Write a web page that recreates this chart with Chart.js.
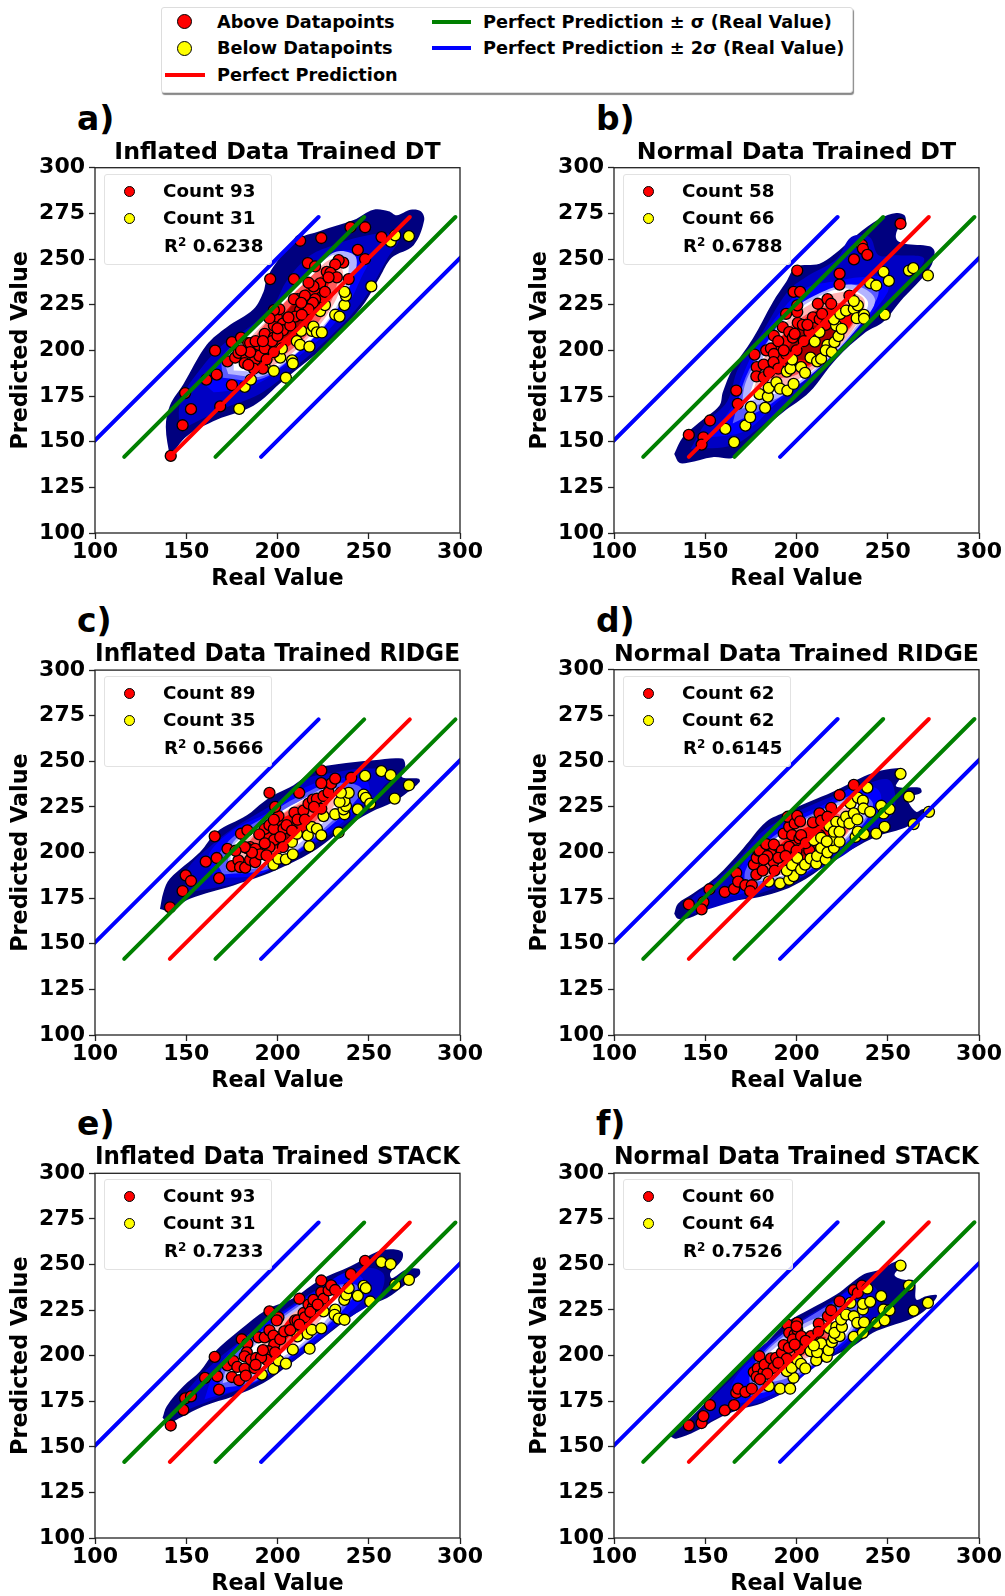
<!DOCTYPE html>
<html>
<head>
<meta charset="utf-8">
<script src="https://cdn.jsdelivr.net/npm/chart.js@4/dist/chart.umd.js"></script>
<style>
  body { margin: 0; background: #fff; font-family: "DejaVu Sans", sans-serif; font-weight: bold; color: #000; }
  #page { position: relative; width: 1005px; height: 1596px; overflow: hidden; }
  canvas { position: absolute; }
  .box { position: absolute; box-sizing: border-box; border-radius: 3px; }
  .txt { position: absolute; white-space: nowrap; line-height: 1; }
  .dot { position: absolute; box-sizing: border-box; border-radius: 50%; border: 1.3px solid #000; }
  .bar { position: absolute; height: 4px; }
  sup { font-size: 12px; line-height: 0; vertical-align: 6px; }
</style>
</head>
<body>
<div id="page">
  <div class="box" style="left:161px;top:7px;width:692px;height:86px;background:#fff;border:1px solid #ddd;box-shadow:1px 2px 1px #888"></div>
  <div class="dot" style="left:177px;top:14px;width:15px;height:15px;background:#f00"></div>
  <div class="dot" style="left:177px;top:41px;width:15px;height:15px;background:#ff0"></div>
  <div class="bar" style="left:165px;top:73px;width:40px;background:#f00"></div>
  <div class="bar" style="left:432px;top:20px;width:39px;background:#008000"></div>
  <div class="bar" style="left:432px;top:46px;width:39px;background:#00f"></div>
  <span class="txt" style="left:217px;top:14px;font-size:17.7px">Above Datapoints</span>
  <span class="txt" style="left:217px;top:40px;font-size:17.7px">Below Datapoints</span>
  <span class="txt" style="left:217px;top:67px;font-size:17.7px">Perfect Prediction</span>
  <span class="txt" style="left:483px;top:14px;font-size:17.7px">Perfect Prediction ± σ (Real Value)</span>
  <span class="txt" style="left:483px;top:40px;font-size:17.7px">Perfect Prediction ± 2σ (Real Value)</span>
</div>
<script>
// tick settings
const axisMin = 100;
const axisMax = 300;
const xStep = 50;
const yStep = 25;

// perfect prediction lines (real value, predicted value)
const perfectY = [141.7, 273];
const perfectX = [141, 272.5];
const plusSigmaX = [116, 247.5];
const minusSigmaX = [166, 297.5];
const plusTwoSigmaX = [91, 222.5];
const minusTwoSigmaX = [191, 322.5];

const letters = ['a)', 'b)', 'c)', 'd)', 'e)', 'f)'];
const titles = ['Inflated Data Trained DT', 'Normal Data Trained DT', 'Inflated Data Trained RIDGE', 'Normal Data Trained RIDGE', 'Inflated Data Trained STACK', 'Normal Data Trained STACK'];
const titleSizes = [23.7, 23.7, 24.1, 23.7, 24.3, 24];
const aboveCounts = [93, 58, 89, 62, 93, 60];
const belowCounts = [31, 66, 35, 62, 31, 64];
const r2Values = ['0.6238', '0.6788', '0.5666', '0.6145', '0.7233', '0.7526'];

// seismic colours for the density levels, outer to inner
const levelColors = ['#00007f', '#0000c4', '#0000ff', '#5a5aff', '#b4b4ff', '#ffffff', '#ffb4b4', '#ff5a5a', '#ff0000', '#aa0000'];

const aAbove = [[141.5,142.2],[148,159],[152.6,167.8],[149.4,176.6],[168.6,169.3],[161,184],[166.7,186.7],[175,181],[165.8,199.8],[175,204.5],[180,207],[172.6,194],[176.8,196],[178.6,198.6],[184,204],[185,204],[183,196],[182,193],[187.8,199],[187.8,195],[189.6,203],[193,209],[195,203],[198,207],[198,213.6],[199.6,218.5],[203,214.6],[201,222.5],[198,222],[195.6,217.6],[203,211],[196,239],[209,239],[216.6,247.8],[212.4,260],[224,261.5],[220.6,246],[240,267.4],[248,267.4],[257,262],[244,255],[248,250],[236,248],[233.5,249.4],[231.6,247],[227,243],[229,242.4],[232.5,240],[239,239],[223.4,236.7],[219.7,235],[217,237],[224,229],[220.6,228],[219.4,226],[211,228],[209,228],[212.4,222],[217,222.5],[209.7,218.5],[213.3,219.5],[192,190],[187,190],[207,213.6],[190,197],[193,201],[197,205],[200,208],[185,199],[180,200],[188,205],[192,205],[200,212],[206,218],[215,230],[213,226],[226,232],[228,240],[194,195],[198,199],[184,192]];
const aBelow = [[179,168],[182,180],[185.4,184],[193,191],[198,188.7],[201.5,196],[202.4,201],[204.6,185],[208,194.5],[208.4,192.8],[210.6,205],[212.4,203],[213,210.7],[217.5,202],[218.8,210.7],[219.7,213],[221.6,209.8],[224.3,209.8],[223.4,221.5],[226,224.8],[231.6,219.5],[234,218.5],[236.7,224.8],[237.5,230],[236.7,232],[251.4,235],[262,259.5],[264.5,263],[272,262.5]];
const bAbove = [[141,153.7],[149,152.4],[148,148.4],[152.6,161.6],[167,178],[167.8,170.7],[177,197.7],[178.2,190.8],[182,192.2],[178,185.7],[182,185.3],[183.4,200],[186,201],[187.6,198],[187.6,208],[187.4,193.5],[194.3,198],[192.5,212.7],[194.3,220],[196,210],[198,207],[199,209],[200.7,215],[203.5,214],[200.4,221],[200.4,224.6],[198.4,232],[202,232],[200.4,243.7],[211.7,225.5],[217,228],[219,225.5],[209,218],[212.7,217],[207,210],[223.6,242],[223.6,236],[231.5,249.8],[235.8,257.8],[236.4,255.6],[238.8,252.3],[257,269.3],[229,230],[190,205],[193,200],[197,194],[200,200],[204,205],[206,214],[214,220],[216,214],[190,190],[185,188]];
const bBelow = [[161,157],[165.8,149.7],[172,158.8],[174.6,163.4],[175,169],[182.8,168.5],[179.7,176],[184.3,174.7],[184.8,179.5],[189,182.5],[191,179],[195,178],[198.4,181.6],[194.7,188.4],[196.7,190],[197.6,195],[202.5,190.8],[204.7,187.7],[207.7,196],[210,204.8],[211.3,194],[213.5,195.3],[217,203],[216,200],[219.4,199],[220.8,204.5],[223,207.8],[212.6,210],[221.7,213.6],[224.8,211.8],[220.5,217],[224,220],[227.2,221.8],[231.4,222.7],[233.6,224.6],[231.4,227],[233,217.6],[237,219.4],[237,217.3],[240.4,236.8],[243.7,235.5],[247.7,243],[250.6,238],[248.3,219.6],[261.6,243.7],[264,245],[272,241]];
const cAbove = [[141.1,170],[148,178.9],[149.7,187.5],[152.6,184.4],[168,186],[160.7,195],[166.7,197],[165.6,208.9],[172.6,202],[180,210.3],[183.5,212.2],[175,192.6],[178.6,195.7],[179.5,192],[182.3,191.7],[185,203],[183,202.5],[187.8,202],[185,196],[187.8,194.8],[190.5,199],[193,213],[195.6,215],[198,213],[203.3,213],[198.2,207],[195.6,203],[201.5,208.5],[200.5,220],[198.7,225],[195.6,232.7],[211.9,232.7],[209.3,221.9],[211,218],[214.2,223],[217,226.8],[219.4,229],[221.6,229.5],[225.2,231],[224,224],[228,233],[229.4,237.8],[224,238],[224,245],[231.6,240.5],[240.4,241],[194,198.5],[203,203],[190,210],[205,215],[186,200],[182,203],[177,201],[193,205],[208,212],[215,218],[220,225],[198,218]];
const cBelow = [[197.8,193.3],[200.5,196.6],[204.6,196.3],[208.4,199],[207.9,205.8],[210.6,210.3],[216.6,209.4],[217.5,203.4],[218.8,214],[221.6,213],[224,209.4],[225.2,220],[231.6,221],[233.5,211],[236.7,221],[244,223.7],[236.2,223.7],[237.5,225.5],[236.7,228.3],[234,227.7],[239,232.7],[234.7,232.8],[247.2,231.7],[248.4,230],[250.8,226.8],[248,242],[256.9,244.6],[262,242.4],[264.2,229.6],[272,236.9]];
const dAbove = [[141,171.5],[149,172.8],[148,168.8],[152.3,179.8],[160.7,178.3],[165.8,180],[167,188.7],[168,184],[172,182],[175.5,182],[174.6,178.7],[176.6,193.3],[178.2,197],[179,201],[178,187.8],[181.5,190],[179.7,201],[183.4,204.5],[186,199],[187.6,204.3],[187.4,194.8],[192,201],[193,210.3],[196,214],[195.2,219.5],[199,215.8],[200.4,220],[202,217],[197.6,209.4],[201.6,207.6],[202.5,209.4],[209,216.4],[212.6,221.3],[213.5,217.3],[219,224.4],[217,219.5],[223.6,231.4],[231.4,236.9],[196,203],[207,201],[212.6,209.4],[190,197],[194,198],[200,201],[205,205],[184,198],[182,196],[188,190]];
const dBelow = [[184.8,184],[191,183],[196,185],[198.4,187],[194.7,190],[197.6,193],[202.5,190.6],[200.4,197],[204.7,193.3],[207.7,196.6],[210.8,193.9],[211.3,198],[213.5,202.5],[209.5,206.7],[213.5,208],[216,196],[217,200],[220.5,202.5],[219.4,206.7],[223.6,205.8],[216.6,206],[218,214.4],[221.8,216.7],[220.5,211.3],[223.6,211.3],[225.4,216.7],[227.2,219.5],[229,215.8],[229.6,226.8],[231.4,221.3],[233.3,218],[232.4,208.5],[233.6,211.3],[237,210],[233.6,230],[236.4,228.3],[236.7,224],[238.8,235.4],[240.4,222.2],[243.7,210.3],[246.4,225.5],[247.7,221.3],[248.3,214],[251,223.7],[257,243],[261.6,230.5],[264.2,215.5],[272.6,222.2]];
const eAbove = [[141.5,161.7],[148.4,170.3],[149.4,176.6],[152.6,177.7],[168,181.4],[160.3,187.8],[167,188.7],[175,188.3],[179,186.5],[165.6,199.3],[172.6,194.7],[175.9,197],[178,193.8],[182,192.9],[182.6,189],[180.4,209],[183.5,206.6],[183.2,201.8],[182,199.6],[185.4,197.8],[187.4,193.2],[188.3,198.7],[189.6,210],[193,210],[195.6,224.3],[195.6,213.9],[197.8,211],[200.5,221],[199.6,219.3],[198.2,206],[201.5,209],[203.7,213.3],[195,202.4],[198.7,201.8],[194,197.8],[209.7,219.3],[211,219.3],[212,231.2],[214.3,223.4],[217,228],[219.4,226.6],[219.7,230.6],[224,241.2],[224,234.7],[225.2,231.2],[228,235.8],[229.4,238.5],[231.6,236],[240.2,244.7],[248,252],[207,214],[191,199],[188,195],[192,203],[215,221],[218,224],[222,228],[212,217]];
const eBelow = [[191.4,189.6],[197.8,192.7],[200.5,197.3],[204.6,195.6],[208.4,203.3],[211,210.6],[216.5,212],[217.6,203.8],[218.8,214.2],[224,215],[225.2,224.3],[231.6,225.2],[231.3,222.4],[233.5,220.3],[236.7,219.7],[236.6,230.6],[237.7,233.4],[239,237],[244,232.8],[247.2,238.3],[248.4,237],[250.8,229.7],[256.9,251.3],[262,250.2],[264.5,238.9],[272,241.6]];
const fAbove = [[141,161.7],[148,163],[149,166.8],[152.6,172.8],[160.7,169.9],[165.8,172.8],[167,179.6],[168,181.8],[172,180],[175.5,181.8],[179.7,199.6],[176.6,190.9],[178.8,192.9],[178.2,188.3],[182,190.9],[182.5,195],[186,198.4],[187.4,193.2],[188.8,198.7],[192,201.5],[193,205.7],[195.8,204.2],[194.7,198.2],[194.9,217],[196,212.4],[199,211.5],[200.4,217.9],[200.4,214.2],[198,208.8],[202.5,210.6],[201.6,203.3],[208,210.6],[212.2,217.5],[217.2,221.5],[219,224.8],[223.6,229.7],[231.4,235.8],[233.6,234.3],[235.8,238.3],[190,196],[184,190],[180,187],[199,206],[205,208],[212,213],[200,216]];
const fBelow = [[184.8,183.2],[191,181.8],[196.5,181.8],[198.4,187.8],[194.7,191.4],[197.4,193.2],[200.4,197.8],[202.5,195.4],[204.8,192.9],[207.7,202.4],[210.8,197.3],[211.3,201.8],[213.5,206.6],[209.5,205.5],[216.6,199.3],[217.6,202.9],[219.4,207.3],[220.5,209.7],[223.6,210.6],[218,215],[221.8,215.7],[220.8,212.4],[224.9,215.7],[224.5,219.7],[227.2,222.4],[231.4,221.5],[233.3,217.9],[231.4,210.2],[237,218.2],[236.4,212.4],[236.4,225.2],[236.4,228.3],[240.4,229.4],[238.8,236.7],[229.6,228.8],[243.7,217.9],[246.4,232.5],[247.7,225.2],[248.3,219.3],[251,224.8],[257,249.3],[261.6,238.3],[264.2,224.6],[272,228.8]];

// density outlines, one list per level
const aKde = [
  [[141,141.4],[150.3,153],[166.7,162],[186.8,169.7],[203,183.4],[223.4,200],[238,214.6],[248,226.4],[256,240],[262.7,250.8],[274.6,257.6],[280.4,271.3],[278.5,276.2],[272.8,277],[265.4,274],[260.9,276.2],[252.6,277],[241.7,271.3],[223.4,265.4],[210.6,260.5],[197.8,245.9],[193.8,238],[192.3,232],[186.8,222.5],[172.2,212.7],[161.2,203],[148.4,181.4],[141,169.7],[138.8,158]],
  [[150,158],[170,168],[190,176],[205,187],[225,204],[240,219],[250,232],[260,250],[267,262],[258,264],[245,262],[232,258],[218,252],[205,238],[198,225],[185,213],[170,203],[158,190],[148,175],[146,163]],
  [[165,177],[185,180],[205,192],[225,208],[238,224],[246,240],[250,250],[245,254],[232,254],[220,247],[208,232],[195,218],[180,207],[168,195],[160,183]],
  [[170,185],[190,184],[208,196],[226,214],[237,232],[242,248],[235,254],[224,246],[210,232],[195,216],[180,206],[170,196]],
  [[173,187],[192,186],[210,198],[228,216],[240,236],[243,251],[232,254],[220,244],[204,228],[190,214],[178,205],[171,196]],
  [[176,189],[195,189],[213,201],[230,220],[238,238],[238,250],[230,252],[218,242],[202,226],[188,212],[177,202]],
  [[180,190],[198,192],[215,205],[230,224],[236,242],[230,250],[218,240],[202,224],[188,210],[180,200]],
  [[182,191],[199,195],[216,208],[229,226],[233,243],[226,246],[214,236],[200,222],[188,208],[182,198]],
  [[185,192],[200,198],[214,210],[226,230],[228,242],[218,236],[205,222],[193,208],[184,199]],
  [[200,204],[213,214],[220,228],[212,228],[202,216]]
];
const bKde = [
  [[133,143.3],[135.8,138.4],[140.4,138.4],[154,141.5],[166,141.5],[176,152.4],[192.5,166],[207,177],[221.8,195.3],[238,210],[247.3,215.4],[256.5,226.4],[272.9,244.7],[275.7,253.8],[272.9,257],[259.2,258.4],[254.7,261],[255.6,266.6],[259.6,269.3],[259.2,273.9],[254.7,275.2],[245.5,272],[232.7,262.9],[220,252],[212.6,247.4],[199.8,245.6],[194.3,237.4],[187,226.4],[176,206.3],[165,189.9],[159.6,177],[157.8,169.8],[146.8,160.6],[137.7,152.4]],
  [[142,146],[165,148],[180,158],[200,175],[222,198],[240,215],[258,235],[270,250],[255,252],[245,252],[240,262],[230,262],[222,250],[205,240],[195,232],[180,208],[168,190],[162,172],[150,160]],
  [[150,152],[172,156],[190,172],[210,188],[230,208],[250,232],[248,240],[235,240],[222,238],[205,234],[192,222],[178,202],[170,185],[164,168]],
  [[165,160],[185,170],[210,190],[232,212],[245,232],[232,236],[215,232],[198,222],[182,202],[172,185]],
  [[170,168],[190,174],[213,191],[234,213],[243,228],[230,236],[212,231],[194,219],[181,199],[172,182]],
  [[173,172],[195,179],[215,194],[234,215],[239,227],[226,234],[208,227],[192,215],[182,197]],
  [[176,177],[197,182],[218,197],[234,216],[237,228],[225,232],[207,225],[191,212],[182,195]],
  [[183,184],[201,187],[220,202],[233,219],[226,226],[208,221],[192,208]],
  [[188,191],[205,191],[222,205],[231,218],[215,223],[198,212],[188,203]],
  [[192,197],[206,195],[220,204],[222,213],[205,212]]
];
const cKde = [
  [[135.6,169],[141,168],[152,174.7],[175.9,182],[192.3,187.5],[205,193],[221.6,202],[236.2,213],[250.8,222],[263.6,227.7],[271.3,233],[277.9,238.7],[277.4,240.5],[268.2,241.4],[270,247.9],[268.2,251.5],[252.6,250.6],[232.5,248.4],[221.6,246],[208.8,236.9],[199.6,232.3],[192.3,227.7],[183.2,220.4],[166.7,211.3],[157.6,200.3],[141,185.6],[137.5,178.3]],
  [[150,178],[180,184],[205,196],[232,212],[250,226],[258,236],[265,244],[250,246],[232,244],[215,240],[200,228],[180,216],[165,205],[150,190]],
  [[165,186],[190,188],[210,199],[235,216],[250,232],[248,240],[228,240],[212,234],[195,222],[175,212],[162,198]],
  [[170,188],[195,191],[215,204],[235,220],[246,235],[230,238],[212,231],[192,219],[175,208],[167,196]],
  [[172,190],[195,193],[218,207],[238,228],[230,236],[212,228],[192,216],[176,206]],
  [[174,191],[196,195],[218,210],[234,228],[228,234],[208,226],[190,214],[176,204]],
  [[178,194],[198,198],[218,212],[232,228],[224,233],[205,223],[188,211],[179,202]],
  [[184,196],[202,200],[218,214],[228,228],[214,227],[196,216],[184,205]],
  [[187,199],[205,204],[218,216],[214,223],[196,214]],
  [[192,203],[206,208],[212,217],[200,214]]
];
const dKde = [
  [[133,166.4],[135,163.7],[141.3,164],[157.8,171.9],[179.7,175.6],[192.5,179.2],[205.3,185.6],[220,195.7],[231,202],[243.7,208.5],[258.3,213],[263.8,215.8],[273.9,222.6],[269.3,223.7],[265.6,222.2],[261,229.5],[268.4,232.8],[267.5,235.4],[254.7,236],[257.4,241.4],[258.3,245],[254.7,246],[243.7,244],[234.6,240.5],[220,233.2],[207,227.7],[194.3,222.2],[183.4,216.7],[170.6,202],[156,186.5],[143.1,177.4],[135,171.9]],
  [[142,166],[165,173],[190,181],[215,192],[235,205],[252,220],[254,232],[250,240],[235,236],[218,230],[200,222],[182,212],[168,196],[155,184],[142,174]],
  [[160,175],[185,181],[205,188],[228,205],[245,222],[245,234],[232,236],[215,226],[195,217],[180,205],[168,190]],
  [[172,180],[190,183],[210,192],[232,210],[242,226],[234,232],[215,224],[195,214],[180,202],[172,190]],
  [[176,184],[195,186],[212,195],[232,212],[240,224],[232,230],[212,222],[195,212],[180,200]],
  [[178,186],[196,188],[214,197],[232,214],[236,224],[228,227],[210,220],[192,210],[180,198]],
  [[179,187],[198,189],[216,199],[231,214],[233,222],[222,224],[206,217],[190,207],[179,196]],
  [[180,190],[199,191],[218,202],[229,214],[220,222],[204,215],[188,204]],
  [[187,194],[208,196],[220,206],[218,216],[204,213],[190,203]],
  [[196,198],[208,199],[214,206],[206,208]]
];
const eKde = [
  [[137,165.9],[140.2,163],[146.6,165.9],[159.4,172.3],[175.9,177.7],[192.3,185],[205,194],[221.6,207],[238,219.7],[249,227],[260,231.6],[270,238.9],[277.9,244.3],[277.4,247.6],[270,247],[262.7,242.5],[261.8,245.3],[268.2,252.6],[268.2,257],[261.8,258.4],[254.5,257],[240,249],[223.4,241.6],[208.8,231.6],[194.1,225.2],[179.5,214.2],[165,201.5],[157.6,191.4],[148.4,183.2],[139.3,172.3]],
  [[145,168],[170,178],[190,186],[210,198],[235,218],[255,232],[258,245],[245,248],[225,238],[205,226],[185,212],[165,196],[150,180]],
  [[160,176],[185,184],[210,200],[235,220],[250,236],[240,246],[222,236],[200,222],[182,210],[166,192]],
  [[168,182],[188,186],[210,202],[235,224],[244,238],[230,238],[205,224],[185,208],[170,194]],
  [[170,185],[190,190],[212,204],[236,228],[234,238],[210,226],[188,208],[172,192]],
  [[172,187],[180,188],[192,193],[215,208],[234,230],[230,236],[208,222],[188,206],[175,194]],
  [[192,196],[212,208],[226,224],[222,230],[204,220],[190,204]],
  [[195,199],[210,210],[220,224],[212,224],[198,210]],
  [[198,204],[208,212],[214,222],[206,220]],
  [[202,208],[208,214],[210,219],[204,214]]
];
const fKde = [
  [[130.7,155.8],[134,154.4],[145,158.6],[156,165],[168.7,170.4],[181.5,174],[194.3,181.4],[207,192.3],[220,199.6],[230.9,205],[241.9,212.4],[251,216],[263.8,220.6],[271,225.2],[277,232.8],[271,232.5],[265.6,230.7],[264.7,240.7],[258.3,241.6],[253.7,244.3],[259.2,250.7],[254.7,251.6],[245.5,247],[236.4,244.3],[221.8,233.4],[207,225.2],[194.3,217.9],[183.4,207],[172.4,197.8],[157.8,182.3],[143,166.8],[134,158.6]],
  [[145,160],[165,170],[190,178],[210,194],[232,208],[245,222],[244,236],[235,240],[220,230],[200,218],[180,204],[165,188],[150,172]],
  [[165,173],[185,178],[205,190],[230,210],[240,226],[232,236],[215,226],[196,214],[178,200],[165,185]],
  [[175,178],[192,183],[212,197],[232,214],[236,226],[225,230],[205,220],[188,208],[175,192]],
  [[176,184],[196,188],[214,199],[232,216],[232,224],[216,222],[198,214],[180,198]],
  [[178,187],[198,192],[216,202],[230,216],[226,222],[206,216],[188,204],[178,194]],
  [[182,190],[200,196],[218,206],[226,218],[212,216],[194,206],[182,196]],
  [[188,194],[204,200],[218,209],[220,216],[204,210],[190,200]],
  [[194,197],[206,203],[216,210],[206,208]],
  [[198,200],[206,204],[209,208],[202,205]]
];

const aboveSets = [aAbove, bAbove, cAbove, dAbove, eAbove, fAbove];
const belowSets = [aBelow, bBelow, cBelow, dBelow, eBelow, fBelow];
const kdeSets = [aKde, bKde, cKde, dKde, eKde, fKde];

// where each plot sits on the page
const canvasLefts = [0, 519];
const plotTops = [168, 670, 1173];
const plotLeft = 95;
const plotSize = 365;
const titleBlock = 28;
const xAxisBlock = 60;

Chart.defaults.font.family = '"DejaVu Sans"';
Chart.defaults.font.weight = 'bold';
Chart.defaults.color = '#000';

const toPoints = list => list.map(p => ({ x: p[0], y: p[1] }));
const linePoints = xs => xs.map((x, i) => ({ x: x, y: perfectY[i] }));

const frame = {
  id: 'frame',
  afterDatasetsDraw(chart) {
    const a = chart.chartArea;
    const ctx = chart.ctx;
    ctx.save();
    ctx.strokeStyle = '#222';
    ctx.lineWidth = 1.3;
    ctx.strokeRect(a.left, a.top, a.width, a.height);
    ctx.restore();
  }
};

function lineSet(label, xs, color) {
  return { label: label, data: linePoints(xs), showLine: true, borderColor: color, borderWidth: 4, borderCapStyle: 'round', pointRadius: 0, order: 1 };
}

function pointSet(label, list, color, order) {
  return { label: label, data: toPoints(list), backgroundColor: color, borderColor: '#000', borderWidth: 1.3, pointRadius: 5.5, order: order };
}

function axis(title, step, isX) {
  return {
    type: 'linear',
    min: axisMin,
    max: axisMax,
    title: { display: true, text: title, font: { size: 22.3, weight: 'bold' }, padding: isX ? 0 : { top: 8, bottom: 0 } },
    ticks: { stepSize: step, font: { size: 22, weight: 'bold' }, padding: isX ? 0 : 4, maxRotation: 0, minRotation: 0, autoSkip: false },
    grid: { drawOnChartArea: false, tickLength: 6, tickColor: '#222', tickWidth: 1.3 },
    border: { display: false },
    afterFit(a) {
      if (isX) { a.height = xAxisBlock; a.paddingLeft = 0; a.paddingRight = 0; }
      else { a.width = plotLeft; a.paddingTop = 0; a.paddingBottom = 0; }
    }
  };
}

const page = document.getElementById('page');

function addHtml(html) {
  page.insertAdjacentHTML('beforeend', html);
}

letters.forEach((letter, i) => {
  const col = i % 2;
  const top = plotTops[Math.floor(i / 2)];
  const left = canvasLefts[col];

  const canvas = document.createElement('canvas');
  canvas.style.left = left + 'px';
  canvas.style.top = (top - titleBlock) + 'px';
  canvas.width = 505 - (col ? 19 : 0);
  canvas.height = titleBlock + plotSize + xAxisBlock;
  page.appendChild(canvas);

  const datasets = [
    lineSet('Perfect Prediction', perfectX, '#ff0000'),
    lineSet('Perfect Prediction + sigma', plusSigmaX, '#008000'),
    lineSet('Perfect Prediction - sigma', minusSigmaX, '#008000'),
    lineSet('Perfect Prediction + 2 sigma', plusTwoSigmaX, '#0000ff'),
    lineSet('Perfect Prediction - 2 sigma', minusTwoSigmaX, '#0000ff'),
    // right column has the yellow points on top, left column the red ones
    pointSet('Above Datapoints', aboveSets[i], '#ff0000', col ? 3 : 2),
    pointSet('Below Datapoints', belowSets[i], '#ffff00', col ? 2 : 3)
  ];
  kdeSets[i].forEach((outline, level) => {
    datasets.push({
      label: 'Density level ' + (level + 1),
      data: toPoints(outline.concat([outline[0]])),
      showLine: true,
      fill: 'shape',
      backgroundColor: levelColors[level],
      borderColor: levelColors[level],
      borderWidth: 0,
      tension: 0.35,
      pointRadius: 0,
      order: 20 - level
    });
  });

  new Chart(canvas, {
    type: 'scatter',
    data: { datasets: datasets },
    options: {
      responsive: false,
      animation: false,
      layout: { padding: { left: 0, right: canvas.width - plotLeft - plotSize, top: 0, bottom: 0 } },
      plugins: {
        legend: { display: false },
        tooltip: { enabled: false },
        title: { display: true, text: titles[i], fullSize: false, font: { size: titleSizes[i], weight: 'bold', lineHeight: 1 }, color: '#000', padding: { top: 1, bottom: 3 } }
      },
      scales: { x: axis('Real Value', xStep, true), y: axis('Predicted Value', yStep, false) }
    },
    plugins: [frame]
  });

  const x0 = left + plotLeft;
  addHtml(`<span class="txt" style="left:${x0 - 18}px;top:${top - 66}px;font-size:33px">${letter}</span>`);
  addHtml(`<div class="box" style="left:${x0 + 9}px;top:${top + 6}px;width:${i === 5 ? 170 : 168}px;height:91px;background:rgba(255,255,255,.8);border:1px solid #e2e2e2"></div>`);
  addHtml(`<div class="dot" style="left:${x0 + 29}px;top:${top + 18}px;width:11px;height:11px;background:#f00"></div>`);
  addHtml(`<div class="dot" style="left:${x0 + 29}px;top:${top + 45}px;width:11px;height:11px;background:#ff0"></div>`);
  addHtml(`<span class="txt" style="left:${x0 + 68}px;top:${top + 14}px;font-size:18.3px">Count ${aboveCounts[i]}</span>`);
  addHtml(`<span class="txt" style="left:${x0 + 68}px;top:${top + 41}px;font-size:18.3px">Count ${belowCounts[i]}</span>`);
  addHtml(`<span class="txt" style="left:${x0 + 69}px;top:${top + 69}px;font-size:18.3px">R<sup>2</sup> ${r2Values[i]}</span>`);
});
</script>
</body>
</html>
